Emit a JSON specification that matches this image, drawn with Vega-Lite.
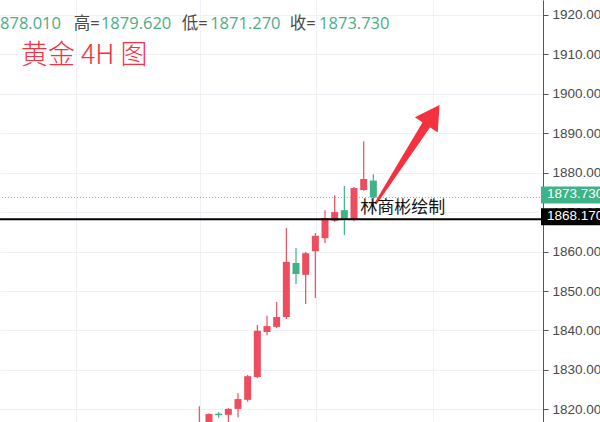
{
  "$schema": "https://vega.github.io/schema/vega-lite/v6.json",
  "width": 543,
  "height": 422,
  "autosize": {"type": "none"},
  "padding": {"left": 0, "top": 0, "right": 57, "bottom": 0},
  "background": "#ffffff",
  "config": {
    "view": {"stroke": null},
    "axisX": {"grid": true, "gridColor": "#eef1f5", "labels": false, "ticks": false, "domain": false},
    "axisY": {"grid": true, "gridColor": "#eef1f5", "labelFont": "Liberation Sans", "labelFontSize": 13.5,
      "labelColor": "#4a4a4a", "tickColor": "#555555", "domainColor": "#555555", "tickSize": 5, "labelPadding": 4,
      "labelOverlap": false, "labelFlush": false, "labelBound": false}
  },
  "datasets": {
    "candles": [
      {"i": 0, "open": 1812.0, "high": 1820.8, "low": 1810.0, "close": 1815.5},
      {"i": 1, "open": 1814.5, "high": 1819.0, "low": 1812.5, "close": 1818.8},
      {"i": 2, "open": 1818.9, "high": 1819.3, "low": 1817.8, "close": 1818.5},
      {"i": 3, "open": 1818.6, "high": 1820.3, "low": 1815.5, "close": 1820.1},
      {"i": 4, "open": 1820.1, "high": 1824.1, "low": 1818.0, "close": 1822.6},
      {"i": 5, "open": 1822.4, "high": 1828.7, "low": 1821.9, "close": 1828.4},
      {"i": 6, "open": 1828.2, "high": 1841.4, "low": 1827.9, "close": 1839.9},
      {"i": 7, "open": 1839.6, "high": 1843.7, "low": 1838.8, "close": 1841.1},
      {"i": 8, "open": 1840.9, "high": 1847.2, "low": 1840.6, "close": 1843.4},
      {"i": 9, "open": 1843.4, "high": 1866.0, "low": 1842.9, "close": 1857.4},
      {"i": 10, "open": 1857.1, "high": 1860.9, "low": 1851.8, "close": 1854.3},
      {"i": 11, "open": 1854.1, "high": 1859.9, "low": 1846.7, "close": 1859.6},
      {"i": 12, "open": 1860.1, "high": 1864.7, "low": 1848.2, "close": 1864.0},
      {"i": 13, "open": 1863.4, "high": 1870.5, "low": 1862.2, "close": 1868.5},
      {"i": 14, "open": 1867.8, "high": 1874.3, "low": 1867.5, "close": 1870.0},
      {"i": 15, "open": 1870.5, "high": 1876.6, "low": 1864.2, "close": 1868.3},
      {"i": 16, "open": 1868.0, "high": 1876.4, "low": 1867.7, "close": 1876.1},
      {"i": 17, "open": 1875.6, "high": 1888.0, "low": 1875.4, "close": 1878.4},
      {"i": 18, "open": 1878.01, "high": 1879.62, "low": 1871.27, "close": 1873.73}
    ],
    "levels": [
      {"price": 1873.73, "label": "1873.730", "kind": "last"},
      {"price": 1868.17, "label": "1868.170", "kind": "line"}
    ],
    "arrow": [
      {"i": 18.27, "p": 1872.32, "t": 0},
      {"i": 23.5, "p": 1892.23, "t": 1}
    ],
    "arrowhead": [{"i": 24.16, "p": 1894.64}],
    "note": [{"i": 16.65, "p": 1871.05, "txt": "林商彬绘制"}],
    "title": [{"i": -18.45, "p": 1909.6, "txt": "黄金 4H 图"}],
    "header": [
      {"order": 0, "i": -14.31, "p": 1917.6, "txt": "1878.010", "kind": "value"},
      {"order": 1, "i": -13.0, "p": 1917.6, "txt": "高=", "kind": "label"},
      {"order": 2, "i": -10.18, "p": 1917.6, "txt": "1879.620", "kind": "value"},
      {"order": 3, "i": -1.83, "p": 1917.6, "txt": "低=", "kind": "label"},
      {"order": 4, "i": 1.12, "p": 1917.6, "txt": "1871.270", "kind": "value"},
      {"order": 5, "i": 9.34, "p": 1917.6, "txt": "收=", "kind": "label"},
      {"order": 6, "i": 12.39, "p": 1917.6, "txt": "1873.730", "kind": "value"}
    ]
  },
  "layer": [
    {
      "data": {"name": "candles"},
      "mark": {"type": "rule", "clip": true, "strokeWidth": 1.2},
      "encoding": {
        "x": {"field": "i", "type": "quantitative",
          "scale": {"domain": [-20.1, 35.03], "nice": false, "zero": false},
          "axis": {"values": [-12.8, 0.1, 12.1, 24.2], "title": null}},
        "y": {"field": "low", "type": "quantitative",
          "scale": {"domain": [1816.78, 1923.8], "nice": false, "zero": false},
          "axis": {"orient": "right", "values": [1820, 1830, 1840, 1850, 1860, 1870, 1880, 1890, 1900, 1910, 1920], "format": ".3f", "title": null}},
        "y2": {"field": "high"},
        "color": {"condition": {"test": "datum.close >= datum.open", "value": "#ee4d5f"}, "value": "#3db387"}
      }
    },
    {
      "data": {"name": "candles"},
      "mark": {"type": "bar", "clip": true, "size": 7},
      "encoding": {
        "x": {"field": "i", "type": "quantitative", "scale": {"domain": [-20.1, 35.03], "nice": false, "zero": false},
          "axis": {"values": [-12.8, 0.1, 12.1, 24.2], "title": null}},
        "y": {"field": "open", "type": "quantitative", "scale": {"domain": [1816.78, 1923.8], "nice": false, "zero": false},
          "axis": {"orient": "right", "values": [1820, 1830, 1840, 1850, 1860, 1870, 1880, 1890, 1900, 1910, 1920], "format": ".3f", "title": null}},
        "y2": {"field": "close"},
        "color": {"condition": {"test": "datum.close >= datum.open", "value": "#ee4d5f"}, "value": "#3db387"}
      }
    },
    {
      "data": {"name": "levels"},
      "transform": [{"filter": "datum.kind == 'last'"}],
      "mark": {"type": "rule", "strokeDash": [1, 2], "strokeWidth": 1, "color": "#3db387", "opacity": 0.8},
      "encoding": {
        "y": {"field": "price", "type": "quantitative", "scale": {"domain": [1816.78, 1923.8], "nice": false, "zero": false},
          "axis": {"orient": "right", "values": [1820, 1830, 1840, 1850, 1860, 1870, 1880, 1890, 1900, 1910, 1920], "format": ".3f", "title": null}}
      }
    },
    {
      "data": {"name": "levels"},
      "transform": [{"filter": "datum.kind == 'line'"}],
      "mark": {"type": "rule", "strokeWidth": 2, "color": "#000000"},
      "encoding": {
        "y": {"field": "price", "type": "quantitative", "scale": {"domain": [1816.78, 1923.8], "nice": false, "zero": false},
          "axis": {"orient": "right", "values": [1820, 1830, 1840, 1850, 1860, 1870, 1880, 1890, 1900, 1910, 1920], "format": ".3f", "title": null}}
      }
    },
    {
      "data": {"name": "levels"},
      "mark": {"type": "rect", "xOffset": 3, "x2Offset": 62, "yOffset": -11, "y2Offset": 6},
      "encoding": {
        "x": {"datum": 35.03, "type": "quantitative", "scale": {"domain": [-20.1, 35.03], "nice": false, "zero": false},
          "axis": {"values": [-12.8, 0.1, 12.1, 24.2], "title": null}},
        "x2": {"datum": 35.03},
        "y": {"field": "price", "type": "quantitative", "scale": {"domain": [1816.78, 1923.8], "nice": false, "zero": false},
          "axis": {"orient": "right", "values": [1820, 1830, 1840, 1850, 1860, 1870, 1880, 1890, 1900, 1910, 1920], "format": ".3f", "title": null}},
        "y2": {"field": "price"},
        "color": {"condition": {"test": "datum.kind == 'last'", "value": "#3db387"}, "value": "#000000"}
      }
    },
    {
      "data": {"name": "levels"},
      "mark": {"type": "text", "align": "left", "baseline": "middle", "dx": 9, "dy": -3.5, "font": "Liberation Sans", "fontSize": 13.5, "color": "#ffffff"},
      "encoding": {
        "x": {"datum": 35.03, "type": "quantitative", "scale": {"domain": [-20.1, 35.03], "nice": false, "zero": false},
          "axis": {"values": [-12.8, 0.1, 12.1, 24.2], "title": null}},
        "y": {"field": "price", "type": "quantitative", "scale": {"domain": [1816.78, 1923.8], "nice": false, "zero": false},
          "axis": {"orient": "right", "values": [1820, 1830, 1840, 1850, 1860, 1870, 1880, 1890, 1900, 1910, 1920], "format": ".3f", "title": null}},
        "text": {"field": "label"}
      }
    },
    {
      "data": {"name": "arrow"},
      "mark": {"type": "trail", "color": "#f4323f"},
      "encoding": {
        "x": {"field": "i", "type": "quantitative", "scale": {"domain": [-20.1, 35.03], "nice": false, "zero": false},
          "axis": {"values": [-12.8, 0.1, 12.1, 24.2], "title": null}},
        "y": {"field": "p", "type": "quantitative", "scale": {"domain": [1816.78, 1923.8], "nice": false, "zero": false},
          "axis": {"orient": "right", "values": [1820, 1830, 1840, 1850, 1860, 1870, 1880, 1890, 1900, 1910, 1920], "format": ".3f", "title": null}},
        "size": {"field": "t", "type": "quantitative", "scale": {"domain": [0, 1], "range": [2.5, 9]}, "legend": null},
        "order": {"field": "t"}
      }
    },
    {
      "data": {"name": "arrowhead"},
      "mark": {"type": "point", "shape": "triangle-up", "filled": true, "size": 756, "angle": 33.7, "color": "#f4323f", "opacity": 1},
      "encoding": {
        "x": {"field": "i", "type": "quantitative", "scale": {"domain": [-20.1, 35.03], "nice": false, "zero": false},
          "axis": {"values": [-12.8, 0.1, 12.1, 24.2], "title": null}},
        "y": {"field": "p", "type": "quantitative", "scale": {"domain": [1816.78, 1923.8], "nice": false, "zero": false},
          "axis": {"orient": "right", "values": [1820, 1830, 1840, 1850, 1860, 1870, 1880, 1890, 1900, 1910, 1920], "format": ".3f", "title": null}}
      }
    },
    {
      "data": {"name": "note"},
      "mark": {"type": "text", "align": "left", "baseline": "middle", "font": "Noto Sans CJK SC", "fontSize": 17, "color": "#111111"},
      "encoding": {
        "x": {"field": "i", "type": "quantitative", "scale": {"domain": [-20.1, 35.03], "nice": false, "zero": false},
          "axis": {"values": [-12.8, 0.1, 12.1, 24.2], "title": null}},
        "y": {"field": "p", "type": "quantitative", "scale": {"domain": [1816.78, 1923.8], "nice": false, "zero": false},
          "axis": {"orient": "right", "values": [1820, 1830, 1840, 1850, 1860, 1870, 1880, 1890, 1900, 1910, 1920], "format": ".3f", "title": null}},
        "text": {"field": "txt"}
      }
    },
    {
      "data": {"name": "title"},
      "mark": {"type": "text", "align": "left", "baseline": "middle", "font": "Noto Sans CJK SC", "fontSize": 27, "fontWeight": 300, "color": "#f4323f"},
      "encoding": {
        "x": {"field": "i", "type": "quantitative", "scale": {"domain": [-20.1, 35.03], "nice": false, "zero": false},
          "axis": {"values": [-12.8, 0.1, 12.1, 24.2], "title": null}},
        "y": {"field": "p", "type": "quantitative", "scale": {"domain": [1816.78, 1923.8], "nice": false, "zero": false},
          "axis": {"orient": "right", "values": [1820, 1830, 1840, 1850, 1860, 1870, 1880, 1890, 1900, 1910, 1920], "format": ".3f", "title": null}},
        "text": {"field": "txt"}
      }
    },
    {
      "data": {"name": "header"},
      "transform": [{"filter": "datum.order == 0"}],
      "mark": {"type": "text", "align": "right", "baseline": "middle", "font": "Open Sans, Noto Sans CJK SC", "fontSize": 16.5, "clip": true},
      "encoding": {
        "x": {"field": "i", "type": "quantitative", "scale": {"domain": [-20.1, 35.03], "nice": false, "zero": false},
          "axis": {"values": [-12.8, 0.1, 12.1, 24.2], "title": null}},
        "y": {"field": "p", "type": "quantitative", "scale": {"domain": [1816.78, 1923.8], "nice": false, "zero": false},
          "axis": {"orient": "right", "values": [1820, 1830, 1840, 1850, 1860, 1870, 1880, 1890, 1900, 1910, 1920], "format": ".3f", "title": null}},
        "text": {"field": "txt"},
        "color": {"field": "kind", "type": "nominal", "scale": {"domain": ["label", "value"], "range": ["#4a4a4a", "#4aae83"]}, "legend": null}
      }
    },
    {
      "data": {"name": "header"},
      "transform": [{"filter": "datum.order > 0"}],
      "mark": {"type": "text", "align": "left", "baseline": "middle", "font": "Open Sans, Noto Sans CJK SC", "fontSize": 16.5, "clip": true},
      "encoding": {
        "x": {"field": "i", "type": "quantitative", "scale": {"domain": [-20.1, 35.03], "nice": false, "zero": false},
          "axis": {"values": [-12.8, 0.1, 12.1, 24.2], "title": null}},
        "y": {"field": "p", "type": "quantitative", "scale": {"domain": [1816.78, 1923.8], "nice": false, "zero": false},
          "axis": {"orient": "right", "values": [1820, 1830, 1840, 1850, 1860, 1870, 1880, 1890, 1900, 1910, 1920], "format": ".3f", "title": null}},
        "text": {"field": "txt"},
        "color": {"field": "kind", "type": "nominal", "scale": {"domain": ["label", "value"], "range": ["#4a4a4a", "#4aae83"]}, "legend": null}
      }
    }
  ]
}
